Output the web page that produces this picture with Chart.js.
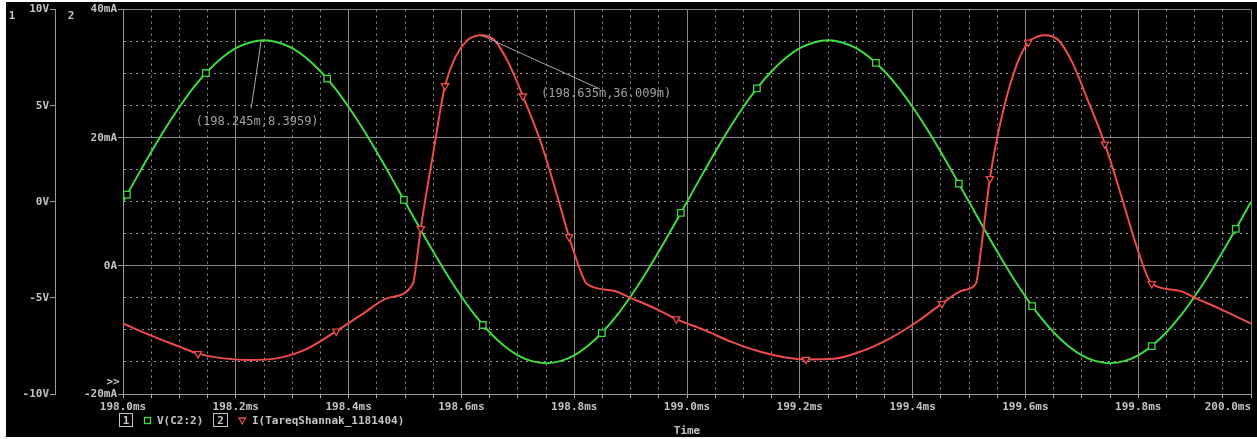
<!DOCTYPE html>
<html><head><meta charset="utf-8">
<script src="https://cdn.jsdelivr.net/npm/chart.js@4"></script>
<style>
html,body{margin:0;padding:0;background:#fff;}
#wrap{position:absolute;left:6px;top:2px;width:1251px;height:435px;background:#000;}
canvas{display:block;}
</style></head><body>
<div id="wrap"><canvas id="c" width="1251" height="435"></canvas></div>
<script>
// ---- data ----
const vTime = [198.000,198.025,198.050,198.075,198.100,198.125,198.150,198.175,198.200,198.225,
198.250,198.275,198.300,198.325,198.350,198.375,198.400,198.425,198.450,198.475,
198.500,198.525,198.550,198.575,198.600,198.625,198.650,198.675,198.700,198.725,
198.750,198.775,198.800,198.825,198.850,198.875,198.900,198.925,198.950,198.975,
199.000,199.025,199.050,199.075,199.100,199.125,199.150,199.175,199.200,199.225,
199.250,199.275,199.300,199.325,199.350,199.375,199.400,199.425,199.450,199.475,
199.500,199.525,199.550,199.575,199.600,199.625,199.650,199.675,199.700,199.725,
199.750,199.775,199.800,199.825,199.850,199.875,199.900,199.925,199.950,199.975,
200.000];
const vValue = [0,1.31,2.59,3.81,4.93,5.94,6.79,7.48,7.99,8.29,
8.40,8.29,7.99,7.48,6.79,5.94,4.93,3.81,2.59,1.31,
0,-1.31,-2.59,-3.81,-4.93,-5.94,-6.79,-7.48,-7.99,-8.29,
-8.40,-8.29,-7.99,-7.48,-6.79,-5.94,-4.93,-3.81,-2.59,-1.31,
0,1.31,2.59,3.81,4.93,5.94,6.79,7.48,7.99,8.29,
8.40,8.29,7.99,7.48,6.79,5.94,4.93,3.81,2.59,1.31,
0,-1.31,-2.59,-3.81,-4.93,-5.94,-6.79,-7.48,-7.99,-8.29,
-8.40,-8.29,-7.99,-7.48,-6.79,-5.94,-4.93,-3.81,-2.59,-1.31,
0];
const iTime = [198.000,198.050,198.100,198.133,198.175,198.225,198.275,198.325,198.378,198.425,
198.470,198.514,198.521,198.528,198.550,198.571,198.590,198.610,198.622,198.635,
198.648,198.660,198.684,198.709,198.740,198.770,198.791,198.810,198.822,198.870,
198.900,198.945,198.981,199.030,199.080,199.130,199.175,199.211,199.260,199.310,
199.360,199.410,199.452,199.490,199.512,199.522,199.537,199.560,199.585,199.605,
199.622,199.635,199.648,199.660,199.684,199.710,199.741,199.770,199.794,199.816,
199.824,199.874,199.901,199.945,200.000];
const iValue = [-9.0,-10.9,-12.6,-13.7,-14.4,-14.7,-14.4,-13.0,-10.2,-7.5,
-5.0,-2.8,1.0,5.8,17.6,28.1,32.7,35.2,35.8,36.0,
35.8,35.1,31.6,26.5,19.5,10.9,4.5,-0.5,-2.8,-3.9,
-5.0,-6.7,-8.3,-10.0,-11.9,-13.4,-14.3,-14.6,-14.5,-13.3,
-11.3,-8.6,-5.9,-3.8,-2.8,3.0,13.6,24.0,31.5,34.9,
35.8,36.0,35.8,35.1,31.6,26.0,19.0,10.9,3.9,-1.6,
-2.8,-3.9,-5.0,-6.7,-9.0];
const vMarkTime = [198.007,198.147,198.362,198.498,198.638,198.849,198.989,199.124,199.335,199.482,199.612,199.824,199.973];
const vMarkValue = [0.37,6.70,6.41,0.10,-6.41,-6.83,-0.58,5.90,7.23,0.95,-5.43,-7.51,-1.41];
const iMarkTime = [198.133,198.378,198.528,198.571,198.709,198.791,198.981,199.211,199.452,199.537,199.605,199.741,199.824];
const iMarkValue = [-13.7,-10.2,5.8,28.1,26.5,4.5,-8.3,-14.6,-5.9,13.6,34.9,19.0,-2.8];

const xMajorTicks = [198.0,198.2,198.4,198.6,198.8,199.0,199.2,199.4,199.6,199.8,200.0];
const xTickLabels = ['198.0ms','198.2ms','198.4ms','198.6ms','198.8ms','199.0ms','199.2ms','199.4ms','199.6ms','199.8ms','200.0ms'];
const vTickValues = [10,5,0,-5,-10];
const vTickLabels = ['10V','5V','0V','-5V','-10V'];
const iTickValues = [40,20,0,-20];
const iTickLabels = ['40mA','20mA','0A','-20mA'];
const seriesNames = ['V(C2:2)','I(TareqShannak_1181404)'];
const axisNumbers = ['1','2'];
const xTitle = 'Time';
const annotTime = [198.245,198.635];
const annotValue = [8.3959,36.009];
const annotAxis = ['yV','yI'];
const annotLabel = ['(198.245m,8.3959)','(198.635m,36.009m)'];

// ---- styles ----
const GREEN = '#3fdc3f';
const RED = '#ee4b4b';
const TXT = '#c4c4c4';
const AXIS = '#9a9a9a';
const GRID = '#8a8a8a';
const DOT = '#9a9a9a';
const FONT = '"DejaVu Sans Mono", monospace';

function idxOf(arr, v){ for(let i=0;i<arr.length;i++){ if(Math.abs(arr[i]-v)<1e-6) return i; } return -1; }
const isMajorX = v => idxOf(xMajorTicks, v) >= 0;
const isMajorI = v => idxOf(iTickValues, v) >= 0;

const pts = (t, v) => t.map((x,i)=>({x:x, y:v[i]}));

const extras = {
  id:'extras',
  afterDraw(chart){
    const ctx = chart.ctx;
    const yV = chart.scales.yV, yI = chart.scales.yI, x = chart.scales.x;
    ctx.save();
    ctx.font = 'bold 11px ' + FONT;
    ctx.fillStyle = TXT; ctx.textBaseline = 'middle'; ctx.textAlign = 'center';
    ctx.fillText(axisNumbers[0], yV.left + 6, 14);
    ctx.fillText(axisNumbers[1], yI.left + 16, 14);
    ctx.fillText('>>', yI.right - 10, 380);
    // annotations
    const offs = [[-10,68,-4,81],[119,54,125,59]];
    ctx.font = '12px ' + FONT;
    for(let k=0;k<annotTime.length;k++){
      const sc = chart.scales[annotAxis[k]];
      const px = x.getPixelForValue(annotTime[k]);
      const py = sc.getPixelForValue(annotValue[k]);
      ctx.strokeStyle = '#a8a8a8'; ctx.lineWidth = 1;
      ctx.beginPath(); ctx.moveTo(px, py); ctx.lineTo(px+offs[k][0], py+offs[k][1]); ctx.stroke();
      ctx.fillStyle = '#a0a0a0'; ctx.textAlign='center';
      ctx.fillText(annotLabel[k], px+offs[k][2], py+offs[k][3]);
    }
    // legend
    const ly = 418;
    ctx.font = 'bold 11px ' + FONT;
    ctx.fillStyle = TXT; ctx.strokeStyle = TXT; ctx.lineWidth = 1;
    ctx.strokeRect(113.5, ly-6.5, 13, 13);
    ctx.textAlign = 'center'; ctx.fillText(axisNumbers[0], 120, ly+1);
    ctx.strokeStyle = GREEN; ctx.lineWidth = 1.3;
    ctx.strokeRect(138.5, ly-2.5, 6, 6);
    ctx.textAlign = 'left'; ctx.fillStyle = TXT; ctx.fillText(seriesNames[0], 151, ly+1);
    ctx.strokeStyle = TXT; ctx.lineWidth = 1;
    ctx.strokeRect(207.5, ly-6.5, 14, 13);
    ctx.textAlign = 'center'; ctx.fillText(axisNumbers[1], 214.5, ly+1);
    ctx.strokeStyle = RED; ctx.lineWidth = 1.3;
    ctx.beginPath(); ctx.moveTo(233, ly-2); ctx.lineTo(239.5, ly-2); ctx.lineTo(236.2, ly+4); ctx.closePath(); ctx.stroke();
    ctx.textAlign = 'left'; ctx.fillStyle = TXT; ctx.fillText(seriesNames[1], 246, ly+1);
    ctx.restore();
  }
};

Chart.defaults.font.family = FONT;

new Chart(document.getElementById('c'), {
  type: 'line',
  data: {
    datasets: [
      {label: seriesNames[0]+' markers', data: pts(vMarkTime, vMarkValue), yAxisID:'yV', showLine:false,
       pointStyle:'rect', pointRadius:4.6, pointHoverRadius:4.6, pointBorderColor:GREEN, pointBackgroundColor:'#000', pointBorderWidth:1.3, order:0},
      {label: seriesNames[1]+' markers', data: pts(iMarkTime, iMarkValue), yAxisID:'yI', showLine:false,
       pointStyle:'triangle', pointRotation:180, pointRadius:4.2, pointHoverRadius:4.2, pointBorderColor:RED, pointBackgroundColor:'#000', pointBorderWidth:1.3, order:0},
      {label: seriesNames[1], data: pts(iTime, iValue), yAxisID:'yI', borderColor:RED, borderWidth:2, pointRadius:0, cubicInterpolationMode:'monotone', order:1},
      {label: seriesNames[0], data: pts(vTime, vValue), yAxisID:'yV', borderColor:GREEN, borderWidth:2, pointRadius:0, cubicInterpolationMode:'monotone', order:2}
    ]
  },
  options: {
    responsive:false, animation:false, events:[],
    layout:{padding:{left:0,right:6,top:7,bottom:0}},
    plugins:{legend:{display:false}, tooltip:{enabled:false}},
    scales:{
      x:{
        type:'linear', min:198, max:200,
        afterFit(s){ s.height = 43; s.paddingRight = 0; s.paddingLeft = 0; },
        ticks:{ stepSize:0.05, autoSkip:false, maxRotation:0, minRotation:0, padding:3,
          color:TXT, font:{size:11, weight:'bold'},
          callback(v){ const k = idxOf(xMajorTicks, v); if(k<0) return ''; return k===xTickLabels.length-1 ? xTickLabels[k]+'       ' : xTickLabels[k]; } },
        grid:{ color: c => (c.tick && isMajorX(c.tick.value)) ? GRID : DOT, lineWidth:1, tickLength:4, tickColor:'#b0b0b0' },
        border:{ display:true, color:AXIS, width:1, dash: c => (c.tick && !isMajorX(c.tick.value)) ? [2,4] : [] },
        title:{ display:true, text:xTitle, color:TXT, font:{size:11, weight:'bold', lineHeight:1}, padding:{top:0,bottom:0} }
      },
      yI:{
        type:'linear', position:'left', weight:0, min:-20, max:40,
        afterFit(s){ s.width = 68; },
        ticks:{ stepSize:5, autoSkip:false, padding:1, color:TXT, font:{size:11, weight:'bold'},
          callback(v){ const k = idxOf(iTickValues, v); return k<0 ? '' : iTickLabels[k]; } },
        grid:{ color: c => (c.tick && isMajorI(c.tick.value)) ? GRID : DOT, lineWidth:1, tickLength:5,
          tickColor: c => (c.tick && isMajorI(c.tick.value)) ? AXIS : 'rgba(0,0,0,0)' },
        border:{ display:true, color:AXIS, width:1, dash: c => (c.tick && !isMajorI(c.tick.value)) ? [2,4] : [] }
      },
      yV:{
        type:'linear', position:'left', weight:1, min:-10, max:10,
        afterFit(s){ s.width = 49; },
        ticks:{ stepSize:5, autoSkip:false, padding:1, color:TXT, font:{size:11, weight:'bold'},
          callback(v){ const k = idxOf(vTickValues, v); return k<0 ? '' : vTickLabels[k]; } },
        grid:{ drawOnChartArea:false, tickLength:5, tickColor:AXIS },
        border:{ display:true, color:AXIS, width:1 }
      }
    }
  },
  plugins:[extras]
});
</script>
</body></html>
